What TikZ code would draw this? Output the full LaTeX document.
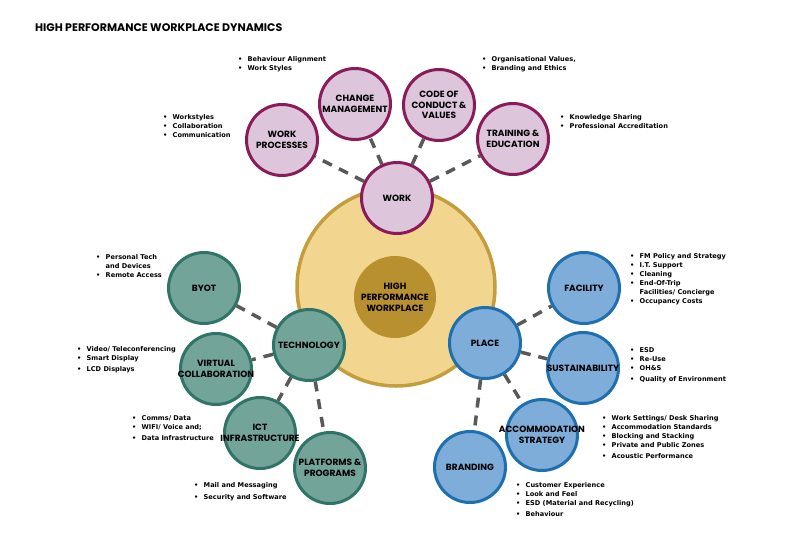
\documentclass[tikz,border=0pt]{standalone}
\usepackage{fontspec}
\newfontfamily\headfont{Poppins}
\newfontfamily\notefont{DejaVu Sans}

\definecolor{hubfill}{HTML}{F2D58E}
\definecolor{hubedge}{HTML}{C49E3C}
\definecolor{corefill}{HTML}{B8902F}
\definecolor{workfill}{HTML}{DDC6DC}
\definecolor{workedge}{HTML}{8B1B58}
\definecolor{techfill}{HTML}{72A49A}
\definecolor{techedge}{HTML}{2F7466}
\definecolor{placefill}{HTML}{7EADDA}
\definecolor{placeedge}{HTML}{1D6FAD}
\definecolor{linegray}{HTML}{595959}

\newcommand{\itm}[1]{\makebox[9.5pt][l]{•}#1}
\newcommand{\cont}[1]{\hspace*{9.5pt}#1}
\newcommand{\wide}[1]{\makebox[56pt]{#1}}

\begin{document}
\begin{tikzpicture}[x=1pt, y=-1pt,
        hub/.style={circle, draw=hubedge, fill=hubfill, line width=3.5pt, minimum size=198pt, inner sep=0pt},
        core/.style={circle, fill=corefill, minimum size=82pt, inner sep=0pt, align=center,
            font=\headfont\bfseries\fontsize{9}{11}\selectfont},
        topic/.style={circle, line width=3pt, minimum size=71pt, inner sep=0pt, align=center,
            font=\headfont\bfseries\fontsize{9}{10.8}\selectfont},
        worknode/.style={topic, draw=workedge, fill=workfill},
        technode/.style={topic, draw=techedge, fill=techfill},
        placenode/.style={topic, draw=placeedge, fill=placefill},
        conn/.style={draw=linegray, line width=3.5pt, dash pattern=on 10pt off 8pt},
        notes/.style={anchor=north west, inner sep=0pt, align=left,
            font=\notefont\bfseries\fontsize{6.6}{9}\selectfont}
    ]
    \useasboundingbox (0,0) rectangle (790,558);

    \node[anchor=west, inner sep=0pt, font=\headfont\bfseries\fontsize{11}{13}\selectfont] (title) at (35,28)
        {HIGH PERFORMANCE WORKPLACE DYNAMICS};

    % ---- CENTRE ----
    \node[hub] (hub) at (396,287) {};
    \node[core] (core) at (395,297) {HIGH\\PERFORMANCE\\WORKPLACE};

    % ---- WORK ----
    \node[worknode] (work) at (397,198) {WORK};
    \node[worknode] (wproc) at (282,140) {WORK\\PROCESSES};
    \node[worknode] (change) at (355,104) {CHANGE\\\wide{MANAGEMENT}};
    \node[worknode] (code) at (439,105) {CODE OF\\CONDUCT \&\\VALUES};
    \node[worknode] (train) at (513,139) {TRAINING \&\\EDUCATION};

    \draw[conn] (work) -- (wproc);
    \draw[conn] (work) -- (change);
    \draw[conn] (work) -- (code);
    \draw[conn] (work) -- (train);

    \node[notes] (procnote) at (163,114) {\itm{Workstyles}\\\itm{Collaboration}\\\itm{Communication}};
    \node[notes] (changenote) at (238,56) {\itm{Behaviour Alignment}\\\itm{Work Styles}};
    \node[notes] (codenote) at (482,56) {\itm{Organisational Values,}\\\itm{Branding and Ethics}};
    \node[notes] (trainnote) at (560,114) {\itm{Knowledge Sharing}\\\itm{Professional Accreditation}};

    % ---- TECHNOLOGY ----
    \node[technode] (tech) at (309,345) {\wide{TECHNOLOGY}};
    \node[technode] (byot) at (204,288) {BYOT};
    \node[technode] (virt) at (216,369) {VIRTUAL\\\wide{COLLABORATION}};
    \node[technode] (ict) at (260,433) {ICT\\\wide{INFRASTRUCTURE}};
    \node[technode] (plat) at (330,468) {PLATFORMS \&\\PROGRAMS};

    \draw[conn] (tech) -- (byot);
    \draw[conn] (tech) -- (virt);
    \draw[conn] (tech) -- (ict);
    \draw[conn] (tech) -- (plat);

    \node[notes] (byotnote) at (96,254) {\itm{Personal Tech}\\\cont{and Devices}\\\itm{Remote Access}};
    \node[notes] (virtnote) at (77,346) {\itm{Video/ Teleconferencing}\\\itm{Smart Display}\\[2pt]\itm{LCD Displays}};
    \node[notes] (ictnote) at (132,415) {\itm{Comms/ Data}\\\itm{WIFI/ Voice and;}\\[2pt]\itm{Data Infrastructure}};
    \node[notes] (platnote) at (194,482) {\itm{Mail and Messaging}\\[3pt]\itm{Security and Software}};

    % ---- PLACE ----
    \node[placenode] (place) at (485,343) {PLACE};
    \node[placenode] (facil) at (584,288) {FACILITY};
    \node[placenode] (sust) at (583,368) {\wide{SUSTAINABILITY}};
    \node[placenode] (accom) at (542,435) {\wide{ACCOMMODATION}\\STRATEGY};
    \node[placenode] (brand) at (470,467) {BRANDING};

    \draw[conn] (place) -- (facil);
    \draw[conn] (place) -- (sust);
    \draw[conn] (place) -- (accom);
    \draw[conn] (place) -- (brand);

    \node[notes] (facilnote) at (630,253) {\itm{FM Policy and Strategy}\\\itm{I.T. Support}\\\itm{Cleaning}\\\itm{End-Of-Trip}\\\cont{Facilities/ Concierge}\\\itm{Occupancy Costs}};
    \node[notes] (sustnote) at (630,347) {\itm{ESD}\\\itm{Re-Use}\\\itm{OH\&S}\\[2pt]\itm{Quality of Environment}};
    \node[notes] (accomnote) at (602,415) {\itm{Work Settings/ Desk Sharing}\\\itm{Accommodation Standards}\\\itm{Blocking and Stacking}\\\itm{Private and Public Zones}\\[2pt]\itm{Acoustic Performance}};
    \node[notes] (brandnote) at (516,482) {\itm{Customer Experience}\\\itm{Look and Feel}\\\itm{ESD (Material and Recycling)}\\[2pt]\itm{Behaviour}};

\end{tikzpicture}
\end{document}
